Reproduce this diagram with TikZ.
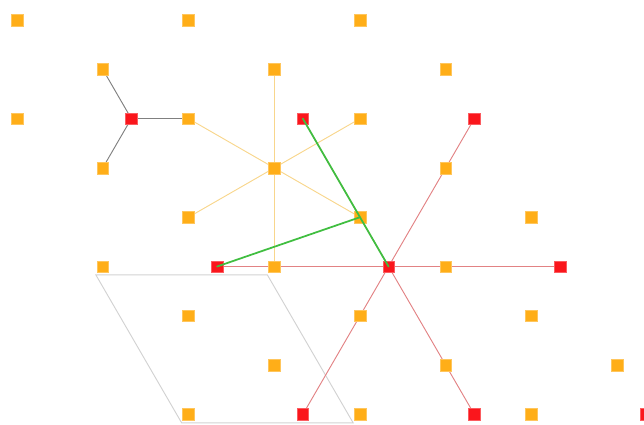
\documentclass[tikz,border=0pt]{standalone}
\usepackage{tikz}
\usetikzlibrary{backgrounds}
\definecolor{amber}{RGB}{255,174,24}
\definecolor{scarlet}{RGB}{250,22,28}
\definecolor{paleamber}{RGB}{248,214,140}
\definecolor{rosy}{RGB}{226,130,132}
\definecolor{leaf}{RGB}{64,190,64}

\begin{document}
\begin{tikzpicture}[x=2.5725cm,y=-1.479cm,line cap=round,
  orsq/.style={fill=amber,draw=amber!70,line width=0.3pt,minimum size=0.35cm,inner sep=0pt},
  redsq/.style={fill=scarlet,draw=scarlet!70,line width=0.3pt,minimum size=0.35cm,inner sep=0pt},
  bond/.style={line width=0.8pt}]
  \useasboundingbox (-0.198,-0.406) rectangle (7.312,8.195);
  % host lattice
  \foreach \i/\j in {0/0,2/0,4/0,1/1,3/1,5/1,0/2,2/2,4/2,1/3,3/3,5/3,2/4,4/4,6/4,1/5,3/5,5/5,2/6,4/6,6/6,3/7,5/7,7/7,2/8,4/8,6/8}
    \node[orsq] (o\i\j) at (\i,\j) {};
  % superlattice sites
  \foreach \i/\j [count=\k] in {4/2,10/2,16/2,7/5,13/5,19/5,10/8,16/8,22/8}
    \node[redsq] (r\k) at (\i/3,\j) {};
  % unit cell
  \coordinate (c1) at (0.92,5.17);
  \coordinate (c2) at (2.92,5.17);
  \coordinate (c3) at (3.92,8.17);
  \coordinate (c4) at (1.92,8.17);
  \begin{scope}[on background layer]
    \draw[gray!35,bond] (c1) -- (c2) -- (c3) -- (c4) -- cycle;
    \foreach \n in {o31,o35,o22,o42,o24,o44} \draw[paleamber,bond] (o33.center) -- (\n.center);
    \foreach \n in {r2,r3,r4,r6,r7,r8} \draw[rosy,bond] (r5.center) -- (\n.center);
    \foreach \n in {o11,o13,o22} \draw[gray,bond] (r1.center) -- (\n.center);
  \end{scope}
  \draw[leaf,line width=1.5pt] (r2.center) -- (r5.center);
  \draw[leaf,line width=1.5pt] (o44.center) -- (r4.center);
\end{tikzpicture}
\end{document}
